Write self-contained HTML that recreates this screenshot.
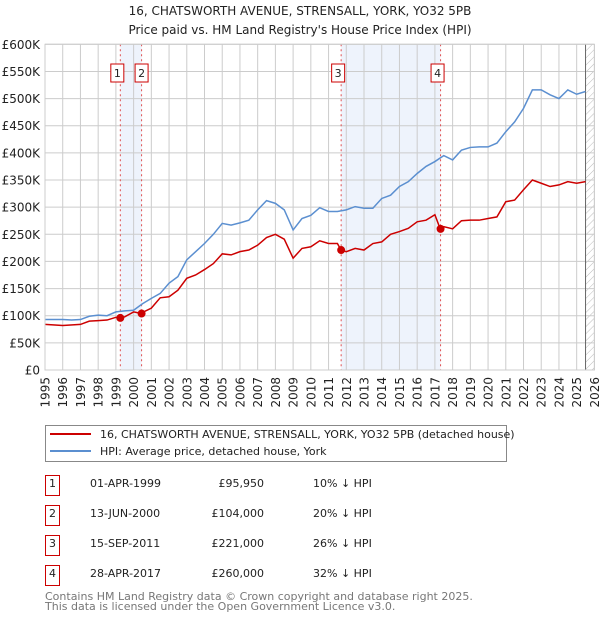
<!DOCTYPE html>
<html><head><meta charset="utf-8"><style>
body{margin:0;background:#fff;font-family:"DejaVu Sans","Liberation Sans",sans-serif;}
svg text{font-family:"DejaVu Sans","Liberation Sans",sans-serif;}
</style></head><body>
<svg id="chart" width="600" height="620" viewBox="0 0 600 620" xmlns="http://www.w3.org/2000/svg">
<defs><pattern id="hatch" width="5" height="5" patternUnits="userSpaceOnUse" patternTransform="rotate(45)"><line x1="0" y1="0" x2="0" y2="5" stroke="#bbb" stroke-width="1"/></pattern></defs>
<text x="300" y="15" text-anchor="middle" font-size="12" fill="#222">16, CHATSWORTH AVENUE, STRENSALL, YORK, YO32 5PB</text>
<text x="300" y="34" text-anchor="middle" font-size="12" fill="#222">Price paid vs. HM Land Registry's House Price Index (HPI)</text>
<g id="plot"></g>
<g>
<rect x="45.5" y="425.5" width="461" height="36" fill="#fff" stroke="#888"/>
<line x1="50" y1="434" x2="91" y2="434" stroke="#cc0000" stroke-width="2"/>
<text x="100" y="438" font-size="11" fill="#222">16, CHATSWORTH AVENUE, STRENSALL, YORK, YO32 5PB (detached house)</text>
<line x1="50" y1="451" x2="91" y2="451" stroke="#5b8fd0" stroke-width="2"/>
<text x="100" y="455" font-size="11" fill="#222">HPI: Average price, detached house, York</text>
</g>
<g id="table" font-size="11" fill="#222"></g>
<text x="45" y="600" font-size="11" fill="#777">Contains HM Land Registry data © Crown copyright and database right 2025.</text>
<text x="45" y="610" font-size="11" fill="#777">This data is licensed under the Open Government Licence v3.0.</text>
</svg>
<script>
const yTicks=[0,50,100,150,200,250,300,350,400,450,500,550,600];
const yTickLabels=["£0","£50K","£100K","£150K","£200K","£250K","£300K","£350K","£400K","£450K","£500K","£550K","£600K"];
const xYears=[1995,1996,1997,1998,1999,2000,2001,2002,2003,2004,2005,2006,2007,2008,2009,2010,2011,2012,2013,2014,2015,2016,2017,2018,2019,2020,2021,2022,2023,2024,2025,2026];
const hpiT=[1995,1996,1996.5,1997,1997.5,1998,1998.5,1999,1999.5,2000,2000.5,2001,2001.5,2002,2002.5,2003,2003.5,2004,2004.5,2005,2005.5,2006,2006.5,2007,2007.5,2008,2008.5,2009,2009.5,2010,2010.5,2011,2011.5,2012,2012.5,2013,2013.5,2014,2014.5,2015,2015.5,2016,2016.5,2017,2017.5,2018,2018.5,2019,2019.5,2020,2020.5,2021,2021.5,2022,2022.5,2023,2023.5,2024,2024.5,2025,2025.5];
const hpiV=[93,93,92,93,99,101,100,107,109,110,122,132,141,160,172,203,218,233,250,270,267,271,276,295,312,307,295,258,279,285,299,292,292,295,301,298,298,316,322,338,347,362,375,384,395,387,405,410,411,411,418,439,457,482,516,516,507,500,516,508,513];
const propT=[1995,1996,1997,1997.5,1998,1998.5,1999,1999.25,1999.5,2000,2000.45,2000.5,2001,2001.5,2002,2002.5,2003,2003.5,2004,2004.5,2005,2005.5,2006,2006.5,2007,2007.5,2008,2008.5,2009,2009.5,2010,2010.5,2011,2011.5,2011.7,2012,2012.5,2013,2013.5,2014,2014.5,2015,2015.5,2016,2016.5,2017,2017.3,2017.5,2018,2018.5,2019,2019.5,2020,2020.5,2021,2021.5,2022,2022.5,2023,2023.5,2024,2024.5,2025,2025.5];
const propV=[84,82,84,90,91,92,97,96,98,107,104,106,114,133,135,147,169,175,185,196,214,212,218,221,230,244,250,241,206,224,227,238,233,233,221,218,224,221,233,236,250,255,261,273,276,286,260,264,260,275,276,276,279,282,310,313,332,350,344,338,341,347,344,347];
const saleT=[1999.25,2000.45,2011.71,2017.32];
const saleV=[95.95,104,221,260];
const saleLabels=["1","2","3","4"];
const saleDates=["01-APR-1999","13-JUN-2000","15-SEP-2011","28-APR-2017"];
const salePrices=["£95,950","£104,000","£221,000","£260,000"];
const salePct=["10% ↓ HPI","20% ↓ HPI","26% ↓ HPI","32% ↓ HPI"];
const shadeStart=[1999.25,2011.71];
const shadeEnd=[2000.45,2017.32];
const dataEnd=2025.5;

const X0=45,X1=594.4,Y0=370,Y1=44.3;
const xs=t=>X0+(t-1995)/(2026-1995)*(X1-X0);
const ys=v=>Y0-v/600*(Y0-Y1);
const NS="http://www.w3.org/2000/svg";
const plot=document.getElementById('plot');
function mk(tag,attrs,parent){const e=document.createElementNS(NS,tag);for(const k in attrs)e.setAttribute(k,attrs[k]);(parent||plot).appendChild(e);return e;}

for(let i=0;i<shadeStart.length;i++){
 const r=mk('rect',{x:xs(shadeStart[i]),y:Y1,width:xs(shadeEnd[i])-xs(shadeStart[i]),height:Y0-Y1,fill:'#eef3fc'});
 
 
}
const hr=mk('rect',{x:xs(dataEnd),y:Y1,width:X1-xs(dataEnd),height:Y0-Y1,fill:'url(#hatch)'});


xYears.forEach(y=>{
 const l=mk('line',{x1:xs(y),y1:Y1,x2:xs(y),y2:Y0,stroke:'#ccc','stroke-width':1});
 
 
 const t=mk('text',{x:0,y:0,'font-size':12,fill:'#222','text-anchor':'end',transform:`translate(${xs(y)+4.5},377) rotate(-90)`});
 t.textContent=y;
 
 
});
yTicks.forEach((v,i)=>{
 const l=mk('line',{x1:X0,y1:ys(v),x2:X1,y2:ys(v),stroke:'#ccc','stroke-width':1});
 
 
 const t=mk('text',{x:40,y:ys(v)+4.5,'font-size':12,fill:'#222','text-anchor':'end'});
 t.textContent=yTickLabels[i];
 
 
});
const de=mk('line',{x1:xs(dataEnd),y1:Y1,x2:xs(dataEnd),y2:Y0,stroke:'#666','stroke-width':1});


saleT.forEach((t,i)=>{
 const l=mk('line',{x1:xs(t),y1:Y1,x2:xs(t),y2:Y0,stroke:'#e05050','stroke-width':1,'stroke-dasharray':'2,3'});
 
 
});
const hp=mk('polyline',{points:hpiT.map((t,i)=>xs(t)+','+ys(hpiV[i])).join(' '),fill:'none',stroke:'#5b8fd0','stroke-width':1.5});


const pp=mk('polyline',{points:propT.map((t,i)=>xs(t)+','+ys(propV[i])).join(' '),fill:'none',stroke:'#cc0000','stroke-width':1.5});


saleT.forEach((t,i)=>{
 const c=mk('circle',{cx:xs(t),cy:ys(saleV[i]),r:4,fill:'#cc0000'});
 
 
 const b=mk('rect',{x:xs(t)-6.5-(i==1?0:3),y:64,width:13,height:18,fill:'#fff',stroke:'#cc0000'});
 
 
 const tx=mk('text',{x:+b.getAttribute('x')+6.5,y:77,'font-size':11,fill:'#222','text-anchor':'middle'});
 tx.textContent=saleLabels[i];
 
 
});
const tbl=document.getElementById('table');
saleDates.forEach((d,i)=>{
 const y=483+i*30;
 const b=mk('rect',{x:45.5,y:y-7.5,width:14,height:20,fill:'#fff',stroke:'#cc0000'},tbl);
 
 
 const n=mk('text',{x:52.5,y:y+4,'text-anchor':'middle'},tbl);n.textContent=saleLabels[i];
 
 
 const a=mk('text',{x:90,y:y+4},tbl);a.textContent=d;
 
 
 const p=mk('text',{x:264,y:y+4,'text-anchor':'end'},tbl);p.textContent=salePrices[i];
 
 
 const q=mk('text',{x:313,y:y+4},tbl);q.textContent=salePct[i];
 
 
});
const fr=mk('rect',{x:X0,y:Y1,width:X1-X0,height:Y0-Y1,fill:'none',stroke:'#ccc'});


</script>
</body></html>
